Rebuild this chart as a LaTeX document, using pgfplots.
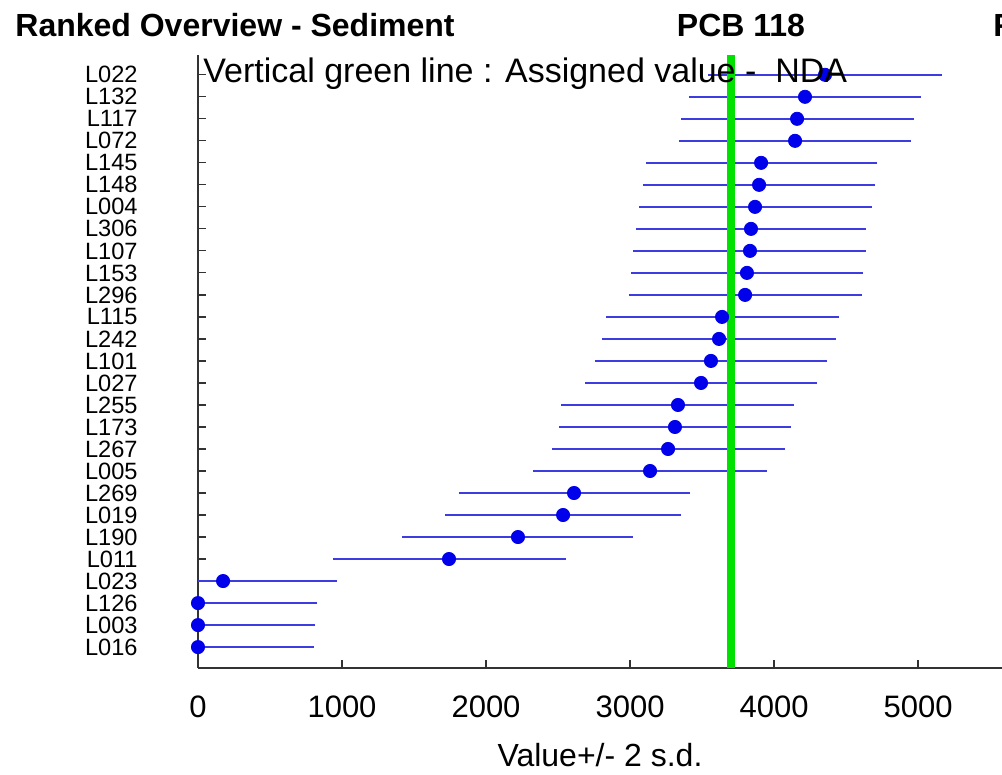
\documentclass[border=0pt]{standalone}
\usepackage{fontspec}
\setmainfont{Liberation Sans}
\usepackage{pgfplots}
\usepackage{pgfplotstable}
\pgfplotsset{compat=1.18}
\definecolor{barblue}{RGB}{60,60,225}
\definecolor{ptblue}{RGB}{0,0,235}
\definecolor{agreen}{RGB}{0,225,0}
\pgfplotstableread{
y lab x err
27 L022 4354 815
26 L132 4215 805
25 L117 4160 809
24 L072 4146 805
23 L145 3910 802
22 L148 3896 805
21 L004 3868 809
20 L306 3840 802
19 L107 3833 809
18 L153 3812 805
17 L296 3799 809
16 L115 3639 809
15 L242 3618 812
14 L101 3562 805
13 L027 3493 806
12 L255 3333 809
11 L173 3312 805
10 L267 3264 809
9 L005 3139 812
8 L269 2611 802
7 L019 2535 820
6 L190 2222 802
5 L011 1743 809
4 L023 174 791
3 L126 0 826
2 L003 0 812
1 L016 0 806
}\data
\begin{document}
\begin{tikzpicture}
\begin{axis}[
  at={(99pt,53.5pt)}, anchor=south west, scale only axis,
  width=402pt, height=306.5pt,
  xmin=0, xmax=5583, ymin=0.05, ymax=27.9,
  axis lines=left, axis line style={-, line width=0.8pt, black!80},
  xtick={0,1000,2000,3000,4000,5000},
  ytick={1,2,...,27},
  yticklabels={L016,L003,L126,L023,L011,L190,L019,L269,L005,L267,L173,L255,L027,L101,L242,L115,L296,L153,L107,L306,L004,L148,L145,L072,L117,L132,L022},
  tick align=inside, major tick length=4pt,
  tick style={black!80, line width=0.6pt},
  /pgf/number format/assume math mode=true,
  /pgf/number format/1000 sep={},
  xticklabel style={font=\fontsize{15.5}{16}\selectfont, anchor=north, inner sep=0pt, yshift=-13.5pt},
  yticklabel style={font=\fontsize{11.8}{12}\selectfont, anchor=east, inner sep=0pt, xshift=-30pt},
  xlabel={Value+/- 2 s.d.},
  xlabel style={font=\fontsize{16}{17}\selectfont, at={(axis description cs:0.5,0)}, anchor=north, inner sep=0pt, yshift=-37.5pt},
  clip=true,
]
\addplot[only marks, mark=*, mark size=3.3pt, color=ptblue,
  error bars/.cd, x dir=both, x explicit, error mark=none,
  error bar style={barblue, line width=1pt}]
  table[x=x, y=y, x error=err]{\data};
\addplot[agreen, line width=4pt] coordinates {(3700,0.05) (3700,27.9)};
\end{axis}
\node[anchor=base west, inner sep=0pt, font=\bfseries\fontsize{16}{17}\selectfont] at (7.5pt,369pt) {Ranked Overview - Sediment};
\node[anchor=base, inner sep=0pt, font=\bfseries\fontsize{16}{17}\selectfont] at (370.5pt,369pt) {PCB 118};
\node[anchor=base west, inner sep=0pt, font=\bfseries\fontsize{16}{17}\selectfont] at (496.5pt,369pt) {F};
\node[anchor=base west, inner sep=0pt, font=\fontsize{17}{18}\selectfont] at (101.5pt,346pt) {Vertical green line : Assigned value - \ NDA};
\pgfresetboundingbox
\useasboundingbox (0,0) rectangle (501pt,387.5pt);
\end{tikzpicture}
\end{document}
